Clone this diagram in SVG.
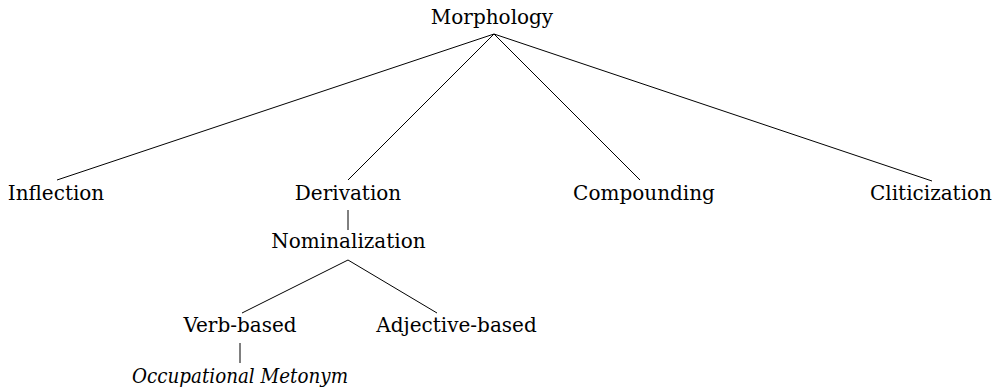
<svg xmlns="http://www.w3.org/2000/svg" width="1002" height="389" viewBox="0 0 1002 389">
<style>
.edge{stroke:#000;stroke-width:1;fill:none}
</style>
<rect width="1002" height="389" fill="#fff"/>
<g id="connectors">
<line class="edge" x1="494" y1="34" x2="57" y2="180"/>
<line class="edge" x1="494" y1="34" x2="348" y2="180"/>
<line class="edge" x1="494" y1="34" x2="640" y2="180"/>
<line class="edge" x1="494" y1="34" x2="932" y2="181"/>
<line class="edge" x1="348" y1="210" x2="348" y2="230"/>
<line class="edge" x1="348" y1="260" x2="242" y2="313"/>
<line class="edge" x1="348" y1="260" x2="437" y2="313"/>
<line class="edge" x1="240" y1="343" x2="240" y2="363"/>
</g>
<g font-family="DejaVu Serif, serif" font-size="20" fill="#000" text-anchor="middle">
<g id="morphology"><text x="492" y="24">Morphology</text></g>
<g id="inflection"><text x="56" y="200">Inflection</text></g>
<g id="derivation"><text x="348" y="200">Derivation</text></g>
<g id="compounding"><text x="644" y="200">Compounding</text></g>
<g id="cliticization"><text x="931" y="200">Cliticization</text></g>
<g id="nominalization"><text x="348.5" y="248">Nominalization</text></g>
<g id="verb-based"><text x="240" y="332">Verb-based</text></g>
<g id="adjective-based"><text x="456.5" y="332">Adjective-based</text></g>
<g id="occupational-metonym"><text font-style="italic" x="240" y="383" textLength="216" lengthAdjust="spacingAndGlyphs">Occupational Metonym</text></g>
</g>
</svg>
